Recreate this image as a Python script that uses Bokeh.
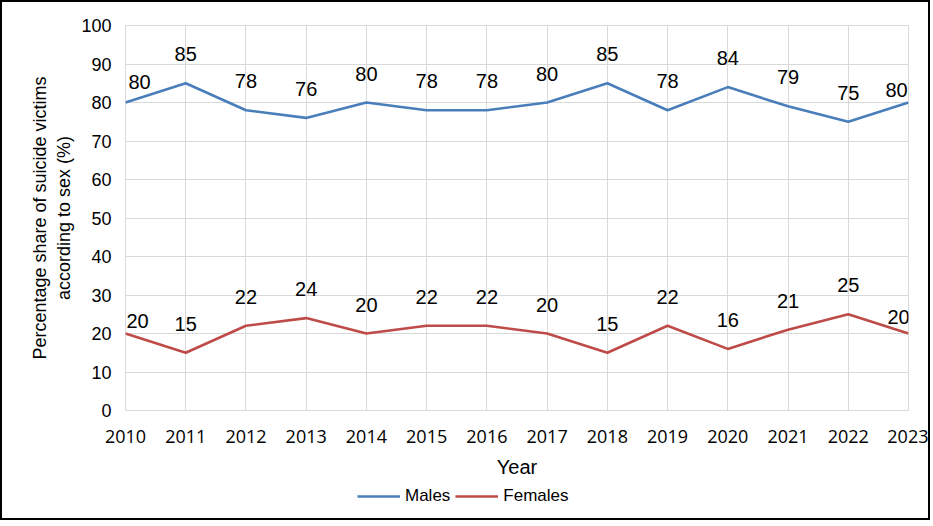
from bokeh.plotting import figure
from bokeh.layouts import column
from bokeh.models import ColumnDataSource, Legend, LegendItem, FixedTicker, Range1d
from bokeh.core.properties import value
from bokeh.embed import file_html
from bokeh.resources import INLINE

years = [2010, 2011, 2012, 2013, 2014, 2015, 2016, 2017, 2018, 2019, 2020, 2021, 2022, 2023]
males = [80, 85, 78, 76, 80, 78, 78, 80, 85, 78, 84, 79, 75, 80]
females = [20, 15, 22, 24, 20, 22, 22, 20, 15, 22, 16, 21, 25, 20]
y_ticks = [0, 10, 20, 30, 40, 50, 60, 70, 80, 90, 100]
series_names = ["Males", "Females"]

BLUE = "#4a7ebb"
RED = "#be4b48"
W = 926
FL, FR = 123, 906  # frame left / right in pixels (inside the 2px border)
FT, FB = 23, 408   # frame top / bottom in pixels
BOTTOM = 72

p = figure(width=W, height=FB + BOTTOM, output_backend="svg", toolbar_location=None,
           x_range=Range1d(2010, 2023), y_range=Range1d(0, 100),
           min_border_left=FL, min_border_right=W - FR, min_border_top=FT, min_border_bottom=BOTTOM)

p.outline_line_color = "#d9d9d9"
p.xgrid.grid_line_color = "#d9d9d9"
p.ygrid.grid_line_color = "#d9d9d9"
p.xaxis.ticker = FixedTicker(ticks=years)
p.yaxis.ticker = FixedTicker(ticks=y_ticks)
for ax in (p.xaxis, p.yaxis):
    ax.axis_line_color = None
    ax.major_tick_line_color = None
    ax.minor_tick_line_color = None
    ax.major_label_text_color = "black"
    ax.axis_label_text_color = "black"
    ax.axis_label_text_font_style = "normal"
p.xaxis.major_label_text_font = "Open Sans"
p.xaxis.major_label_text_font_size = "18px"
p.xaxis.major_label_standoff = 13
p.xaxis.axis_label = "Year"
p.xaxis.axis_label_text_font = "Liberation Sans"
p.xaxis.axis_label_text_font_size = "20px"
p.xaxis.axis_label_standoff = 10
p.yaxis.major_label_text_font = "Liberation Sans"
p.yaxis.major_label_text_font_size = "18px"
p.yaxis.major_label_standoff = 8
p.yaxis.axis_label = "Percentage share of suicide victims\naccording to sex (%)"
p.yaxis.axis_label_text_font = "Liberation Sans"
p.yaxis.axis_label_text_font_size = "18px"
p.yaxis.axis_label_standoff = 4

p.line(years, males, line_color=BLUE, line_width=2.6)
p.line(years, females, line_color=RED, line_width=2.6)

# label placement: (first x, first y, last x, last y) offsets in px; interior labels sit 29px above
end_offsets = {"Males": (14, -21, -12, -13), "Females": (12, -13, -10, -17)}

for name, vals in zip(series_names, (males, females)):
    fx, fy, lx, ly = end_offsets[name]
    n = len(years)
    xo = [fx] + [0] * (n - 2) + [lx]
    yo = [fy] + [-29] * (n - 2) + [ly]
    src = ColumnDataSource(dict(x=years, y=vals, t=[str(v) for v in vals], xo=xo, yo=yo))
    p.text(x="x", y="y", text="t", x_offset="xo", y_offset="yo", source=src,
           text_align="center", text_baseline="middle", text_color="black",
           text_font=value("Liberation Sans"), text_font_size="20px")

# legend strip below the chart
p2 = figure(width=W, height=36, output_backend="svg", toolbar_location=None,
            x_axis_type=None, y_axis_type=None, x_range=Range1d(0, 1), y_range=Range1d(0, 1),
            min_border_left=FL, min_border_right=W - FR, min_border_top=0, min_border_bottom=0)
p2.outline_line_color = None
p2.grid.visible = False
# series drawn outside the visible range: they only serve the legend
lm = p2.line(years, males, line_color=BLUE, line_width=2.6)
lf = p2.line(years, females, line_color=RED, line_width=2.6)
legend = Legend(items=[LegendItem(label=series_names[0], renderers=[lm]),
                       LegendItem(label=series_names[1], renderers=[lf])],
                orientation="horizontal", location=(355 - FL, 12),
                border_line_color=None, background_fill_alpha=0,
                label_text_font="Liberation Sans", label_text_font_size="17px",
                label_text_color="black",
                glyph_width=43, label_standoff=5, spacing=5, padding=0, margin=0)
p2.add_layout(legend, "center")

layout = column(p, p2, spacing=0)
layout.styles = {"border": "2px solid black"}
open("out.html", "w").write(file_html(layout, INLINE))
